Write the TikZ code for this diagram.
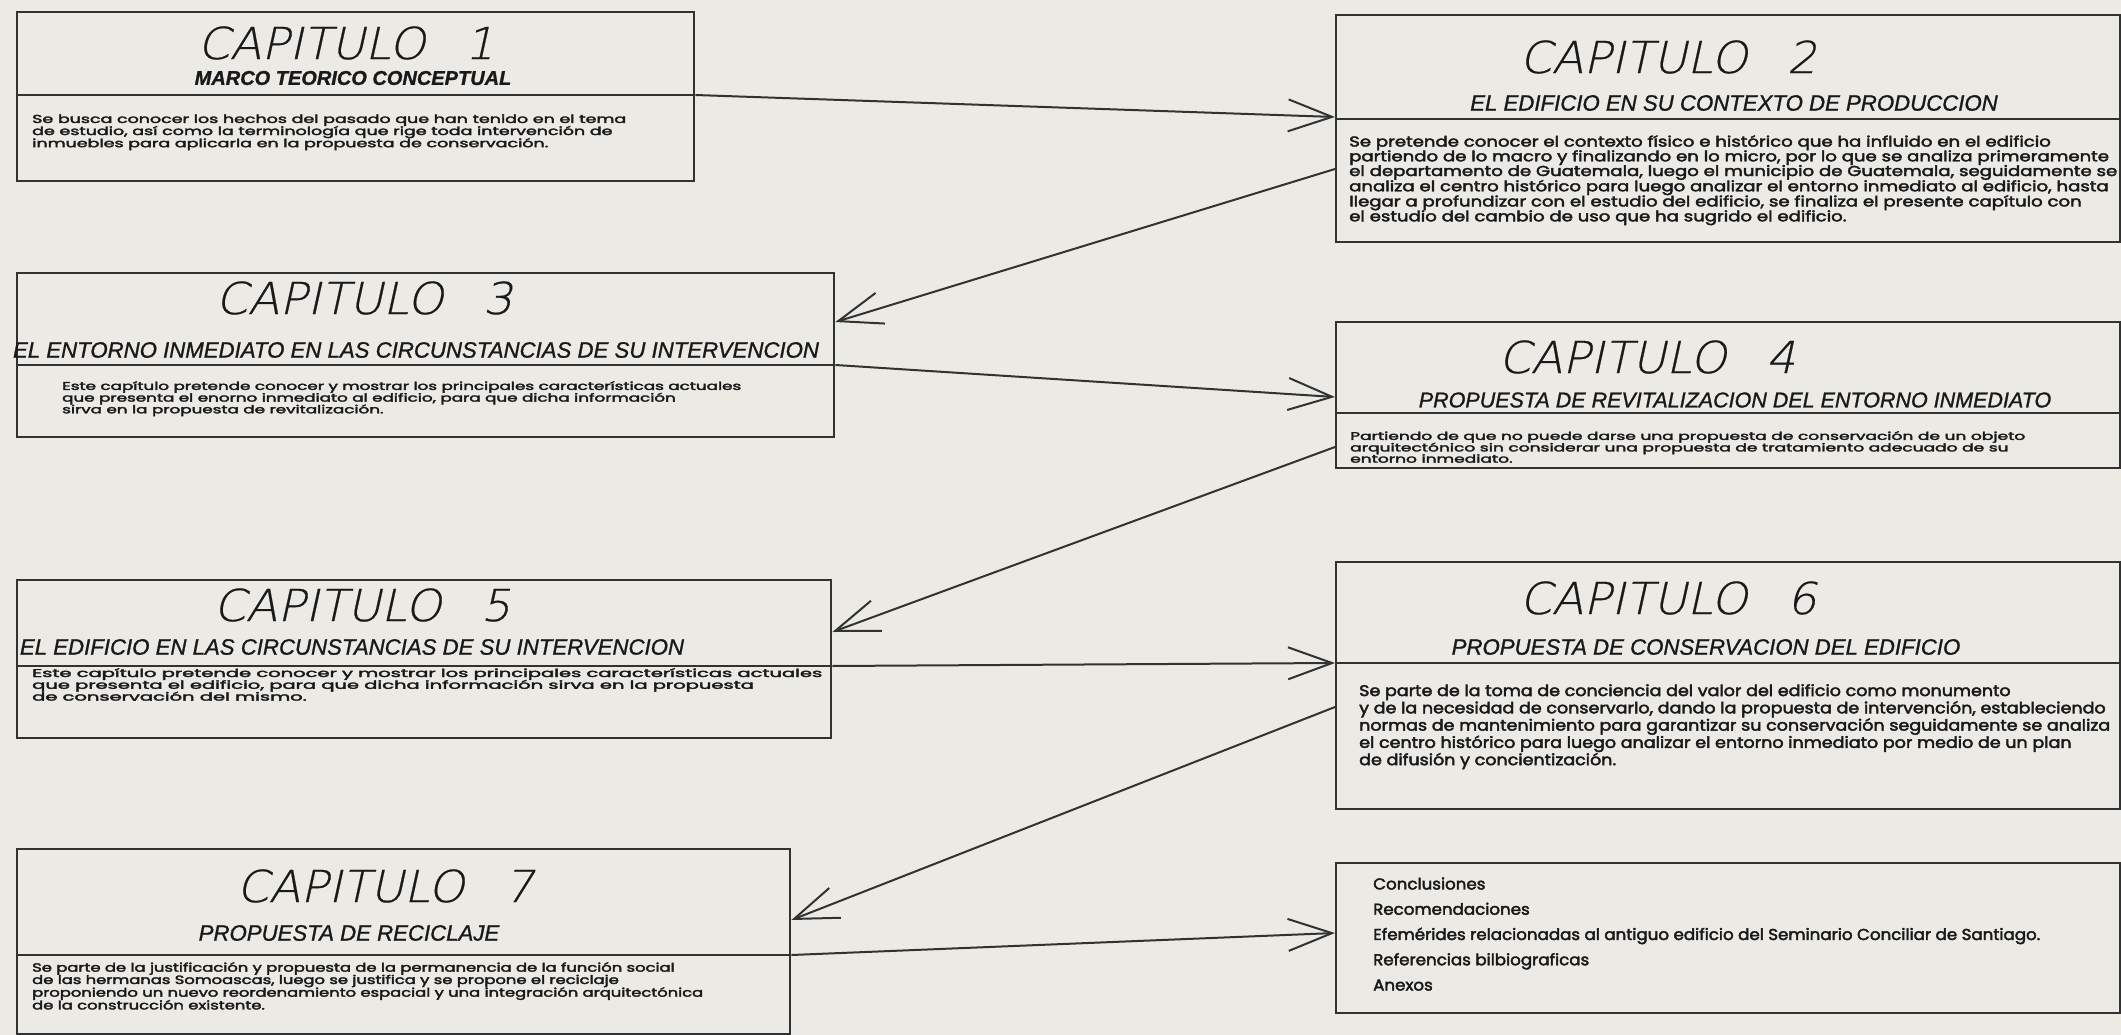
\documentclass[tikz,border=0pt]{standalone}
\usepackage{fontspec}
\usepackage{graphicx}
\setmainfont{Liberation Sans}
\newfontfamily\titlefont[FakeSlant=0.22, FakeStretch=1.05, FakeBold=0.5]{DejaVu Sans ExtraLight}
\newfontfamily\subfont[FakeBold=1.1]{Liberation Sans}
\newfontfamily\bodyfont[FakeBold=2.6]{Poppins}
\usetikzlibrary{arrows.meta}
\definecolor{bgc}{RGB}{235,234,228}
\definecolor{linec}{RGB}{50,50,50}
\definecolor{txtc}{RGB}{25,25,25}
\newcommand{\mybody}[4][0.64]{\resizebox*{#2pt}{#3pt}{\bodyfont\renewcommand{\arraystretch}{#1}\begin{tabular}{@{}l@{}}#4\end{tabular}}}
\tikzset{
  box/.style={draw=linec, line width=2.4pt, anchor=north west, inner sep=0pt},
  divline/.style={draw=linec, line width=2.4pt},
  conn/.style={draw=linec, line width=2pt, -{Straight Barb[length=44pt,width=32pt]}},
  ttl/.style={font=\titlefont\fontsize{44}{50}\selectfont, text=txtc, inner sep=0pt},
  sub/.style={font=\subfont\itshape\fontsize{22.2}{26}\selectfont, text=txtc, inner sep=0pt},
  body/.style={anchor=north west, inner sep=0pt, text=txtc}
}
\begin{document}
\begin{tikzpicture}[x=1pt,y=-1pt]
\fill[bgc] (0,0) rectangle (2121,1035);
\useasboundingbox (0,0) rectangle (2121,1035);
% boxes
\node[box, minimum width=677pt, minimum height=169pt] (b1) at (16,11) {};
\node[box, minimum width=784pt, minimum height=227pt] (b2) at (1335,14) {};
\node[box, minimum width=817pt, minimum height=164pt] (b3) at (16,272) {};
\node[box, minimum width=784pt, minimum height=146pt] (b4) at (1335,321) {};
\node[box, minimum width=814pt, minimum height=158pt] (b5) at (16,579) {};
\node[box, minimum width=784pt, minimum height=247pt] (b6) at (1335,561) {};
\node[box, minimum width=773pt, minimum height=185pt] (b7) at (16,848) {};
\node[box, minimum width=784pt, minimum height=150pt] (b8) at (1335,862) {};
% dividers
\coordinate (d1w) at (b1.west |- 0,95);  \coordinate (d1e) at (b1.east |- 0,95);
\coordinate (d2w) at (b2.west |- 0,119); \coordinate (d2e) at (b2.east |- 0,119);
\coordinate (d3w) at (b3.west |- 0,365); \coordinate (d3e) at (b3.east |- 0,365);
\coordinate (d4w) at (b4.west |- 0,413); \coordinate (d4e) at (b4.east |- 0,413);
\coordinate (d5w) at (b5.west |- 0,666); \coordinate (d5e) at (b5.east |- 0,666);
\coordinate (d6w) at (b6.west |- 0,663); \coordinate (d6e) at (b6.east |- 0,663);
\coordinate (d7w) at (b7.west |- 0,955); \coordinate (d7e) at (b7.east |- 0,955);
\draw[divline] (d1w) -- (d1e);
\draw[divline] (d2w) -- (d2e);
\draw[divline] (d3w) -- (d3e);
\draw[divline] (d4w) -- (d4e);
\draw[divline] (d5w) -- (d5e);
\draw[divline] (d6w) -- (d6e);
\draw[divline] (d7w) -- (d7e);
% titles
\node[ttl] (t1) at (346,43) {CAPITULO\hspace{0.9em}1};
\node[sub, font=\subfont\bfseries\itshape\fontsize{20}{24}\selectfont] (s1) at (353,78) {MARCO TEORICO CONCEPTUAL};
\node[ttl] (t2) at (1668,57) {CAPITULO\hspace{0.9em}2};
\node[sub] (s2) at (1734,103) {EL EDIFICIO EN SU CONTEXTO DE PRODUCCION};
\node[ttl] (t3) at (364,298) {CAPITULO\hspace{0.9em}3};
\node[sub] (s3) at (416,350) {EL ENTORNO INMEDIATO EN LAS CIRCUNSTANCIAS DE SU INTERVENCION};
\node[ttl] (t4) at (1647,357) {CAPITULO\hspace{0.9em}4};
\node[sub, font=\subfont\itshape\fontsize{21.5}{26}\selectfont] (s4) at (1735,400) {PROPUESTA DE REVITALIZACION DEL ENTORNO INMEDIATO};
\node[ttl] (t5) at (362,605) {CAPITULO\hspace{0.9em}5};
\node[sub] (s5) at (352,647) {EL EDIFICIO EN LAS CIRCUNSTANCIAS DE SU INTERVENCION};
\node[ttl] (t6) at (1668,598) {CAPITULO\hspace{0.9em}6};
\node[sub] (s6) at (1706,647) {PROPUESTA DE CONSERVACION DEL EDIFICIO};
\node[ttl] (t7) at (385,886) {CAPITULO\hspace{0.9em}7};
\node[sub] (s7) at (349,933) {PROPUESTA DE RECICLAJE};
% bodies
\node[body] (x1) at (32,114) {\mybody{594}{36}{Se busca conocer los hechos del pasado que han tenido en el tema\\de estudio, así como la terminología que rige toda intervención de\\inmuebles para aplicarla en la propuesta de conservación.}};
\node[body] (x2) at (1349,135) {\mybody{768}{90}{Se pretende conocer el contexto físico e histórico que ha influido en el edificio\\partiendo de lo macro y finalizando en lo micro, por lo que se analiza primeramente\\el departamento de Guatemala, luego el municipio de Guatemala, seguidamente se\\analiza el centro histórico para luego analizar el entorno inmediato al edificio, hasta\\llegar a profundizar con el estudio del edificio, se finaliza el presente capítulo con\\el estudio del cambio de uso que ha sugrido el edificio.}};
\node[body] (x3) at (62,381) {\mybody{679}{35}{Este capítulo pretende conocer y mostrar los principales características actuales\\que presenta el enorno inmediato al edificio, para que dicha información\\sirva en la propuesta de revitalización.}};
\node[body] (x4) at (1350,431) {\mybody{675}{34}{Partiendo de que no puede darse una propuesta de conservación de un objeto\\arquitectónico sin considerar una propuesta de tratamiento adecuado de su\\entorno inmediato.}};
\node[body] (x5) at (32,668) {\mybody{790}{35}{Este capítulo pretende conocer y mostrar los principales características actuales\\que presenta el edificio, para que dicha información sirva en la propuesta\\de conservación del mismo.}};
\node[body] (x6) at (1359,684) {\mybody[0.9]{751}{86}{Se parte de la toma de conciencia del valor del edificio como monumento\\y de la necesidad de conservarlo, dando la propuesta de intervención, estableciendo\\normas de mantenimiento para garantizar su conservación seguidamente se analiza\\el centro histórico para luego analizar el entorno inmediato por medio de un plan\\de difusión y concientización.}};
\node[body] (x7) at (32,962) {\mybody{671}{50}{Se parte de la justificación y propuesta de la permanencia de la función social\\de las hermanas Somoascas, luego se justifica y se propone el reciclaje\\proponiendo un nuevo reordenamiento espacial y una integración arquitectónica\\de la construcción existente.}};
\node[body] (x8) at (1373,876) {\mybody[1]{667}{120}{Conclusiones\\[4pt]Recomendaciones\\[4pt]Efemérides relacionadas al antiguo edificio del Seminario Conciliar de Santiago.\\[4pt]Referencias bilbiograficas\\[4pt]Anexos}};
% connectors
\coordinate (a12s) at (b1.east |- 0,95);   \coordinate (a12e) at (b2.west |- 0,117);
\coordinate (a23s) at (b2.west |- 0,169);  \coordinate (a23e) at (b3.east |- 0,322);
\coordinate (a34s) at (b3.east |- 0,365);  \coordinate (a34e) at (b4.west |- 0,397);
\coordinate (a45s) at (b4.west |- 0,447);  \coordinate (a45e) at (b5.east |- 0,632);
\coordinate (a56s) at (b5.east |- 0,666);  \coordinate (a56e) at (b6.west |- 0,663);
\coordinate (a67s) at (b6.west |- 0,707);  \coordinate (a67e) at (b7.east |- 0,920);
\coordinate (a78s) at (b7.east |- 0,955);  \coordinate (a78e) at (b8.west |- 0,933);
\draw[conn] (a12s) -- (a12e);
\draw[conn] (a23s) -- (a23e);
\draw[conn] (a34s) -- (a34e);
\draw[conn] (a45s) -- (a45e);
\draw[conn] (a56s) -- (a56e);
\draw[conn] (a67s) -- (a67e);
\draw[conn] (a78s) -- (a78e);
\end{tikzpicture}
\end{document}
